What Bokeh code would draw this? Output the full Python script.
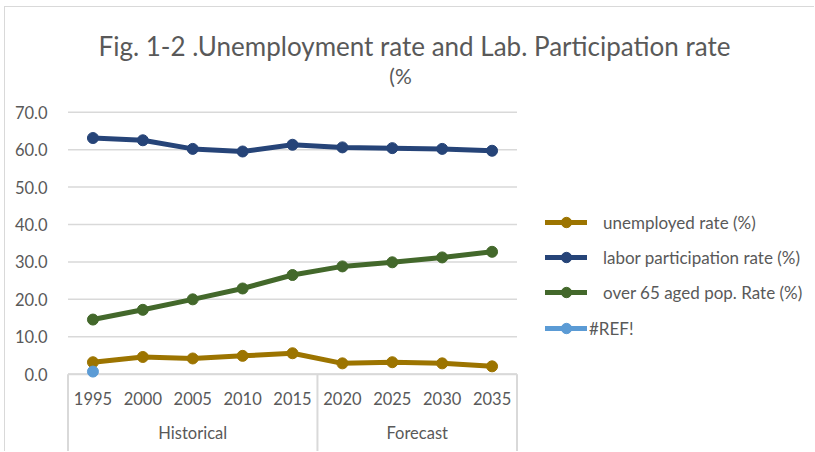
import numpy as np
from bokeh.plotting import figure
from bokeh.models import (Range1d, SingleIntervalTicker, NumeralTickFormatter, Legend,
                          LegendItem, ColumnDataSource, Label)
from bokeh.core.properties import value
from bokeh.embed import file_html
from bokeh.resources import INLINE

# ---- data -------------------------------------------------------------
years = ["1995", "2000", "2005", "2010", "2015", "2020", "2025", "2030", "2035"]
groups = ["Historical", "Historical", "Historical", "Historical", "Historical",
          "Forecast", "Forecast", "Forecast", "Forecast"]
unemployed = [3.2, 4.6, 4.2, 4.9, 5.6, 2.9, 3.2, 2.9, 2.1]
labor = [63.1, 62.5, 60.2, 59.5, 61.3, 60.6, 60.4, 60.2, 59.7]
over65 = [14.6, 17.2, 20.0, 22.9, 26.5, 28.8, 29.9, 31.2, 32.7]
ref_err = [0.7, None, None, None, None, None, None, None, None]

series_names = ["unemployed rate (%)", "labor participation rate (%)",
                "over 65 aged pop. Rate (%)", "#REF!"]
series_colors = ["#9C7400", "#264478", "#43682B", "#5B9BD5"]
y_ticks = [0, 10, 20, 30, 40, 50, 60, 70]

FONT = "Lato"
TEXT = "#595959"
GRID = "#d9d9d9"

# ---- geometry (pixels) -------------------------------------------------
W, H = 810, 445
frame_left = 61
y_zero_px = 366.7          # pixel row of the value axis origin (from top)
px_per_unit = 262.0 / 70   # vertical scale
px_per_cat = 49.89         # horizontal width of one category
x_pad = 1.5 / px_per_cat

x = np.arange(len(years))
x_start = -0.5 - x_pad
x_end = x_start + (W - frame_left) / px_per_cat
y_start = -(H - y_zero_px) / px_per_unit
y_end = y_zero_px / px_per_unit

p = figure(width=W, height=H, output_backend="svg", toolbar_location=None,
           x_axis_type=None,
           x_range=Range1d(x_start, x_end), y_range=Range1d(y_start, y_end),
           min_border_left=frame_left, min_border_right=0,
           min_border_top=0, min_border_bottom=0)
p.outline_line_color = None
p.background_fill_color = "white"
p.border_fill_color = "white"
p.styles = {"margin-left": "4px", "margin-top": "6px",
            "border-left": "1.5px solid #d9d9d9", "border-top": "1.5px solid #d9d9d9"}

# value axis
ax = p.yaxis[0]
ax.ticker = SingleIntervalTicker(interval=10)
ax.bounds = (min(y_ticks), max(y_ticks))
ax.formatter = NumeralTickFormatter(format="0.0")
ax.axis_line_color = None
ax.major_tick_line_color = None
ax.minor_tick_line_color = None
ax.major_label_standoff = 13
ax.major_label_text_font = FONT
ax.major_label_text_font_size = "16.5px"
ax.major_label_text_color = TEXT

p.xgrid.visible = False
p.ygrid.visible = False
n = len(years)
# horizontal gridlines over the plotting columns only
p.segment(x0=[-0.5] * len(y_ticks), y0=y_ticks, x1=[n - 0.5] * len(y_ticks), y1=y_ticks,
          line_color=GRID, line_width=1.5)

# category axis drawn as a table under the zero line
p.segment(x0=[-0.5], y0=[0], x1=[n - 0.5], y1=[0], line_color=GRID, line_width=2)
bounds = [-0.5] + [i + 0.5 for i in range(n - 1) if groups[i] != groups[i + 1]] + [n - 0.5]
p.segment(x0=bounds, y0=[0] * len(bounds), x1=bounds, y1=[y_start] * len(bounds),
          line_color=GRID, line_width=2)
p.text(x=x, y=[0] * n, text=years, y_offset=24,
       text_align="center", text_baseline="middle",
       text_font=value(FONT), text_font_size="16.5px", text_color=TEXT)
group_names = []
group_centers = []
for g in dict.fromkeys(groups):
    idx = [i for i, gg in enumerate(groups) if gg == g]
    group_names.append(g)
    group_centers.append((idx[0] + idx[-1]) / 2)
p.text(x=group_centers, y=[0] * len(group_names), text=group_names, y_offset=59,
       text_align="center", text_baseline="middle",
       text_font=value(FONT), text_font_size="16.5px", text_color=TEXT)

# series
items = []
for name, vals, col in zip(series_names, [unemployed, labor, over65, ref_err], series_colors):
    y = np.array([np.nan if v is None else v for v in vals], dtype=float)
    src = ColumnDataSource(dict(x=x, y=y))
    r1 = p.line("x", "y", source=src, line_color=col, line_width=5,
                line_join="round", line_cap="round")
    r2 = p.scatter("x", "y", source=src, size=11, fill_color=col, line_color=col)
    items.append(LegendItem(label=name, renderers=[r1, r2]))

common = dict(padding=0, margin=0, border_line_alpha=0, background_fill_alpha=0,
              glyph_width=42, glyph_height=26, label_height=26, spacing=9,
              label_text_font=FONT, label_text_font_size="17px", label_text_color=TEXT)
leg_main = Legend(items=items[:3], location=(479, 147), label_standoff=16, **common)
leg_ref = Legend(items=items[3:], location=(479, 111), label_standoff=2, **common)
p.add_layout(leg_main)
p.add_layout(leg_ref)

# title, two lines
p.add_layout(Label(x=348, y=407, x_units="screen", y_units="screen",
                   text="Fig. 1-2 .Unemployment rate and Lab. Participation rate",
                   text_align="center", text_baseline="middle",
                   text_font=FONT, text_font_size="26px", text_color=TEXT))
p.add_layout(Label(x=334, y=377, x_units="screen", y_units="screen",
                   text="(%", text_align="center", text_baseline="middle",
                   text_font=FONT, text_font_size="21px", text_color=TEXT))

open("out.html", "w").write(file_html(p, INLINE))
